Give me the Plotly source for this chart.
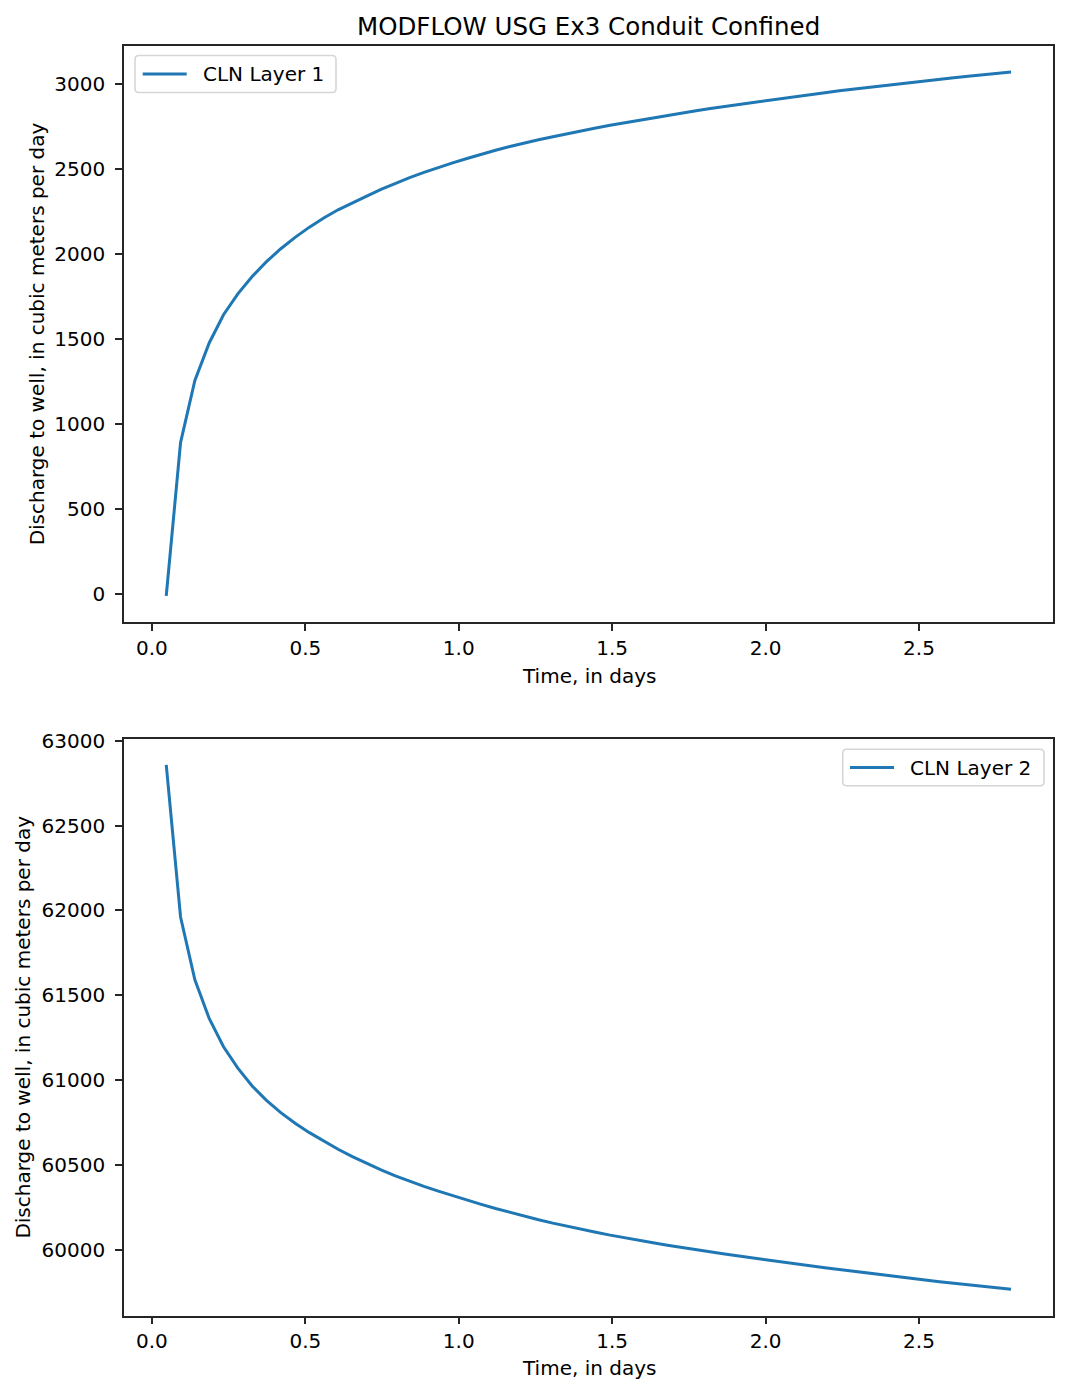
import plotly.graph_objects as go

# ---- data ----
time_days = [round(2.8 * k / 60, 5) for k in range(1, 61)]

cln_layer1 = [
    -11, 890, 1255, 1476, 1642, 1765, 1867, 1954, 2030, 2097,
    2157, 2211, 2259, 2301, 2340, 2379, 2414, 2448, 2479, 2508,
    2535, 2561, 2586, 2609, 2631, 2652, 2671, 2689, 2707, 2724,
    2740, 2756, 2771, 2786, 2801, 2815, 2828, 2842, 2855, 2867,
    2880, 2892, 2904, 2915, 2926, 2937, 2948, 2959, 2969, 2979,
    2989, 2999, 3008, 3017, 3027, 3036, 3044, 3053, 3062, 3070,
]

cln_layer2 = [
    62857, 61961, 61591, 61363, 61196, 61070, 60965, 60880, 60808, 60746,
    60690, 60639, 60592, 60549, 60508, 60470, 60435, 60403, 60373, 60345,
    60318, 60292, 60267, 60243, 60220, 60198, 60177, 60157, 60138, 60120,
    60103, 60086, 60070, 60055, 60041, 60027, 60013, 60000, 59987, 59975,
    59963, 59951, 59939, 59928, 59916, 59905, 59894, 59884, 59873, 59862,
    59852, 59842, 59832, 59822, 59812, 59803, 59794, 59785, 59776, 59767,
]

title_text = "MODFLOW USG Ex3 Conduit Confined"
x_label = "Time, in days"
y_label = "Discharge to well, in cubic meters per day"
series_names = ["CLN Layer 1", "CLN Layer 2"]
x_ticks = [0.0, 0.5, 1.0, 1.5, 2.0, 2.5]
y1_ticks = [0, 500, 1000, 1500, 2000, 2500, 3000]
y2_ticks = [60000, 60500, 61000, 61500, 62000, 62500, 63000]

# ---- layout geometry (pixels) ----
W, H = 1069, 1394
ax_left, ax_right = 124, 1053.3
top1, bot1 = 45.7, 622.0
top2, bot2 = 738.7, 1315.5

FONT = "DejaVu Sans"
BLUE = "#1f77b4"
SPINE = "#262626"
LINE_W = 3.0


def pad_range(vals, frac=0.05):
    lo, hi = min(vals), max(vals)
    span = hi - lo
    return [lo - frac * span, hi + frac * span]


def px_x(p):
    return p / W


def px_y(p):
    return 1 - p / H


fig = go.Figure()
fig.add_trace(go.Scatter(x=time_days, y=cln_layer1, mode="lines", name=series_names[0],
                         line=dict(color=BLUE, width=LINE_W), xaxis="x", yaxis="y"))
fig.add_trace(go.Scatter(x=time_days, y=cln_layer2, mode="lines", name=series_names[1],
                         line=dict(color=BLUE, width=LINE_W), xaxis="x2", yaxis="y2"))

axis_common = dict(
    showline=True, linecolor=SPINE, linewidth=1.6, mirror=True,
    ticks="outside", ticklen=7, tickwidth=1.6, tickcolor=SPINE,
    showgrid=False, zeroline=False, automargin=False,
    tickfont=dict(family=FONT, size=20, color="black"),
)

fig.update_layout(
    width=W, height=H,
    margin=dict(l=0, r=0, t=0, b=0, pad=0),
    paper_bgcolor="white", plot_bgcolor="white",
    font=dict(family=FONT, color="black"),
    showlegend=False,
    xaxis=dict(domain=[px_x(ax_left), px_x(ax_right)], anchor="y",
               range=pad_range(time_days), tickvals=x_ticks, tickformat=".1f",
               ticklabelstandoff=0, **axis_common),
    yaxis=dict(domain=[px_y(bot1), px_y(top1)], anchor="x",
               range=pad_range(cln_layer1), tickvals=y1_ticks, tickformat="d",
               ticklabelstandoff=6, **axis_common),
    xaxis2=dict(domain=[px_x(ax_left), px_x(ax_right)], anchor="y2",
                range=pad_range(time_days), tickvals=x_ticks, tickformat=".1f",
                ticklabelstandoff=0, **axis_common),
    yaxis2=dict(domain=[px_y(bot2), px_y(top2)], anchor="x2",
                range=pad_range(cln_layer2), tickvals=y2_ticks, tickformat="d",
                ticklabelstandoff=6, **axis_common),
)

cx = px_x((ax_left + ax_right) / 2)
annots = [
    dict(text=title_text, x=cx, y=px_y(26), font=dict(size=24.5)),
    dict(text=x_label, x=cx, y=px_y(676), font=dict(size=20)),
    dict(text=x_label, x=cx, y=px_y(1368), font=dict(size=20)),
    dict(text=y_label, x=px_x(36.5), y=px_y((top1 + bot1) / 2), textangle=-90, font=dict(size=20)),
    dict(text=y_label, x=px_x(23.5), y=px_y((top2 + bot2) / 2), textangle=-90, font=dict(size=20)),
]
for a in annots:
    a["font"].update(family=FONT, color="black")
    fig.add_annotation(xref="paper", yref="paper", xanchor="center", yanchor="middle",
                       showarrow=False, **a)


# ---- matplotlib-style legends (rounded frame, handle line, text) ----
def rounded_rect(x0, y0, x1, y1, r=4):
    def P(x, y):
        return f"{px_x(x):.6f},{px_y(y):.6f}"
    return (f"M {P(x0 + r, y0)} L {P(x1 - r, y0)} Q {P(x1, y0)} {P(x1, y0 + r)} "
            f"L {P(x1, y1 - r)} Q {P(x1, y1)} {P(x1 - r, y1)} "
            f"L {P(x0 + r, y1)} Q {P(x0, y1)} {P(x0, y1 - r)} "
            f"L {P(x0, y0 + r)} Q {P(x0, y0)} {P(x0 + r, y0)} Z")


legend_boxes = [
    # (box x0, y0, x1, y1, handle x0, handle x1, text x, name)
    (135, 55.5, 336, 92.5, 142.7, 186.7, 201.0, series_names[0]),
    (842.7, 749.3, 1044, 785.7, 850.0, 894.0, 908.3, series_names[1]),
]
for bx0, by0, bx1, by1, hx0, hx1, tx, name in legend_boxes:
    cy = (by0 + by1) / 2
    fig.add_shape(type="path", xref="paper", yref="paper", path=rounded_rect(bx0, by0, bx1, by1),
                  fillcolor="rgba(255,255,255,0.8)", line=dict(color="#d6d6d6", width=1.6),
                  layer="above")
    fig.add_shape(type="line", xref="paper", yref="paper",
                  x0=px_x(hx0), x1=px_x(hx1), y0=px_y(cy), y1=px_y(cy),
                  line=dict(color=BLUE, width=LINE_W), layer="above")
    fig.add_annotation(xref="paper", yref="paper", x=px_x(tx), y=px_y(cy),
                       xanchor="left", yanchor="middle", showarrow=False, text=name,
                       font=dict(family=FONT, size=20, color="black"))

fig.write_html("out.html")
